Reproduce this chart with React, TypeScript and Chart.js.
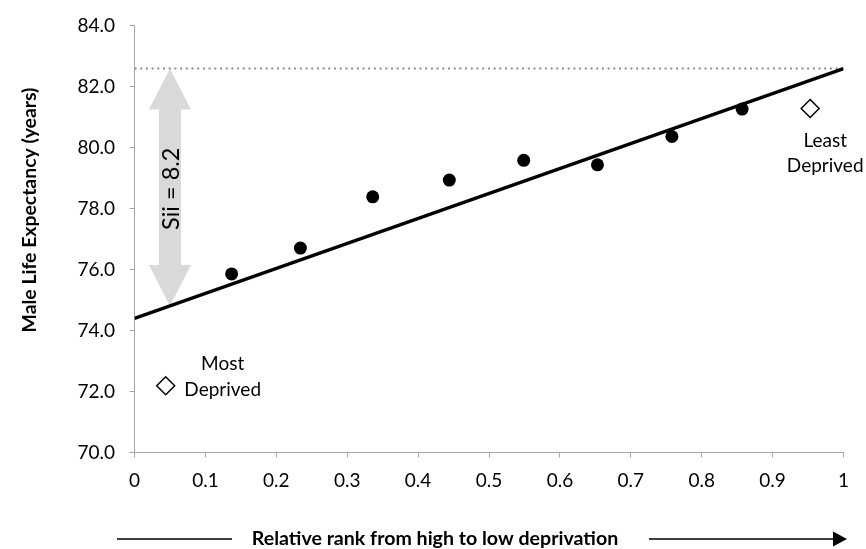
import { useEffect, useRef } from 'react';
import { Chart, registerables } from 'chart.js';

Chart.register(...registerables);

// ---- data ----
const decileX = [0.137, 0.234, 0.336, 0.444, 0.549, 0.653, 0.758, 0.857];
const decileY = [75.86, 76.71, 78.39, 78.94, 79.59, 79.44, 80.37, 81.27];
const extremeX = [0.044, 0.953];
const extremeY = [72.19, 81.29];
const extremeLabels = [['Most', 'Deprived'], ['Least', 'Deprived']];
const sliX = [0, 1];
const sliY = [74.4, 82.6];
const siiValue = 8.2;
const siiArrowX = 0.05;
const xTickValues = [0, 0.1, 0.2, 0.3, 0.4, 0.5, 0.6, 0.7, 0.8, 0.9, 1];
const xTickLabels = ['0', '0.1', '0.2', '0.3', '0.4', '0.5', '0.6', '0.7', '0.8', '0.9', '1'];
const yTickValues = [70, 72, 74, 76, 78, 80, 82, 84];
const yTickLabels = ['70.0', '72.0', '74.0', '76.0', '78.0', '80.0', '82.0', '84.0'];
const xTitle = 'Relative rank from high to low deprivation';
const yTitle = 'Male Life Expectancy (years)';

const FONT = 'Lato';
const TEXT = '#000000';
const AXIS = '#a6a6a6';

const annotations = {
  id: 'annotations',
  beforeDatasetsDraw(chart: any) {
    const { ctx, scales } = chart;
    const x = scales.x;
    const y = scales.y;
    const ax = x.getPixelForValue(siiArrowX);
    const top = y.getPixelForValue(sliY[1]);
    const bot = y.getPixelForValue(sliY[0] + (sliY[1] - sliY[0]) * siiArrowX);
    const headH = 41;
    const headW = 21;
    const shaftW = 11;
    ctx.save();
    ctx.fillStyle = '#d9d9d9';
    ctx.beginPath();
    ctx.moveTo(ax, top);
    ctx.lineTo(ax + headW, top + headH);
    ctx.lineTo(ax + shaftW, top + headH);
    ctx.lineTo(ax + shaftW, bot - headH);
    ctx.lineTo(ax + headW, bot - headH);
    ctx.lineTo(ax, bot);
    ctx.lineTo(ax - headW, bot - headH);
    ctx.lineTo(ax - shaftW, bot - headH);
    ctx.lineTo(ax - shaftW, top + headH);
    ctx.lineTo(ax - headW, top + headH);
    ctx.closePath();
    ctx.fill();
    // Sii label
    ctx.translate(ax + 1.5, (top + bot) / 2 + 1.5);
    ctx.rotate(-Math.PI / 2);
    ctx.fillStyle = TEXT;
    ctx.font = `23.5px ${FONT}`;
    ctx.textAlign = 'center';
    ctx.textBaseline = 'middle';
    ctx.fillText(`Sii = ${siiValue}`, 0, 0);
    ctx.restore();
  },
  afterDraw(chart: any) {
    const { ctx, scales } = chart;
    const x = scales.x;
    const y = scales.y;
    ctx.save();
    ctx.fillStyle = TEXT;
    ctx.font = `19px ${FONT}`;
    ctx.textAlign = 'center';
    ctx.textBaseline = 'middle';
    // Most deprived (label to the right-top of marker)
    const m0x = x.getPixelForValue(extremeX[0]);
    const m0y = y.getPixelForValue(extremeY[0]);
    ctx.fillText(extremeLabels[0][0], m0x + 57, m0y - 22);
    ctx.fillText(extremeLabels[0][1], m0x + 57, m0y + 4);
    // Least deprived (label below marker)
    const m1x = x.getPixelForValue(extremeX[1]);
    const m1y = y.getPixelForValue(extremeY[1]);
    ctx.fillText(extremeLabels[1][0], m1x + 15, m1y + 32);
    ctx.fillText(extremeLabels[1][1], m1x + 15, m1y + 57);

    // y title
    ctx.save();
    ctx.translate(30, 210);
    ctx.rotate(-Math.PI / 2);
    ctx.font = `bold 19.4px ${FONT}`;
    ctx.fillText(yTitle, 0, 0);
    ctx.restore();

    // x title with arrow
    const ty = 539;
    ctx.font = `bold 19.6px ${FONT}`;
    ctx.fillText(xTitle, 435, ty);
    ctx.strokeStyle = '#000';
    ctx.lineWidth = 1.3;
    ctx.beginPath();
    ctx.moveTo(117, ty);
    ctx.lineTo(232, ty);
    ctx.moveTo(649, ty);
    ctx.lineTo(835, ty);
    ctx.stroke();
    ctx.fillStyle = '#000';
    ctx.beginPath();
    ctx.moveTo(833, ty - 7.5);
    ctx.lineTo(847, ty);
    ctx.lineTo(833, ty + 7.5);
    ctx.closePath();
    ctx.fill();
    ctx.restore();
  },
};

export default function App() {
  const ref = useRef<HTMLCanvasElement>(null);
  useEffect(() => {
    const chart = new Chart(ref.current as HTMLCanvasElement, {
      type: 'scatter',
      data: {
        datasets: [
          {
            label: 'Deciles',
            data: decileX.map((v, i) => ({ x: v, y: decileY[i] })),
            pointStyle: 'circle',
            pointRadius: 6.5,
            backgroundColor: '#000',
            borderColor: '#000',
            borderWidth: 0,
          },
          {
            label: 'Extremes',
            data: extremeX.map((v, i) => ({ x: v, y: extremeY[i] })),
            pointStyle: 'rectRot',
            pointRadius: 9,
            backgroundColor: '#fff',
            borderColor: '#000',
            borderWidth: 1.5,
          },
          {
            label: 'Slope index',
            data: sliX.map((v, i) => ({ x: v, y: sliY[i] })),
            showLine: true,
            pointRadius: 0,
            borderColor: '#000',
            borderWidth: 3.3,
          },
          {
            label: 'Max',
            data: sliX.map((v) => ({ x: v, y: sliY[1] })),
            showLine: true,
            pointRadius: 0,
            borderColor: '#8c8c8c',
            borderWidth: 2,
            borderDash: [2, 3.7],
          },
        ],
      },
      options: {
        animation: false,
        responsive: false,
        layout: { padding: { left: 0, top: 21.7, right: 22.5, bottom: 0 } },
        plugins: { legend: { display: false }, tooltip: { enabled: false } },
        scales: {
          x: {
            type: 'linear',
            min: 0,
            max: 1,
            afterBuildTicks: (s: any) => {
              s.ticks = xTickValues.map((v) => ({ value: v }));
            },
            afterFit: (s: any) => {
              s.height = 96.5;
            },
            ticks: {
              callback: (_v: any, i: number) => xTickLabels[i],
              font: { family: FONT, size: 19 },
              color: TEXT,
              padding: 11.5,
              maxRotation: 0,
              autoSkip: false,
            },
            grid: { drawOnChartArea: false, drawTicks: true, tickLength: 5, color: AXIS },
            border: { display: true, color: AXIS, width: 1 },
          },
          y: {
            type: 'linear',
            min: 70,
            max: 84,
            afterBuildTicks: (s: any) => {
              s.ticks = yTickValues.map((v) => ({ value: v }));
            },
            afterFit: (s: any) => {
              s.width = 134.5;
            },
            ticks: {
              callback: (_v: any, i: number) => yTickLabels[i],
              font: { family: FONT, size: 19 },
              color: TEXT,
              padding: 14.5,
              autoSkip: false,
            },
            grid: { drawOnChartArea: false, drawTicks: true, tickLength: 5, color: AXIS },
            border: { display: true, color: AXIS, width: 1 },
          },
        },
      },
      plugins: [annotations],
    });
    return () => chart.destroy();
  }, []);
  return (
    <div style={{ position: 'absolute', left: 0, top: 0, width: 866, height: 549, background: '#fff' }}>
      <canvas ref={ref} width={866} height={549} style={{ width: 866, height: 549, display: 'block' }} />
    </div>
  );
}
